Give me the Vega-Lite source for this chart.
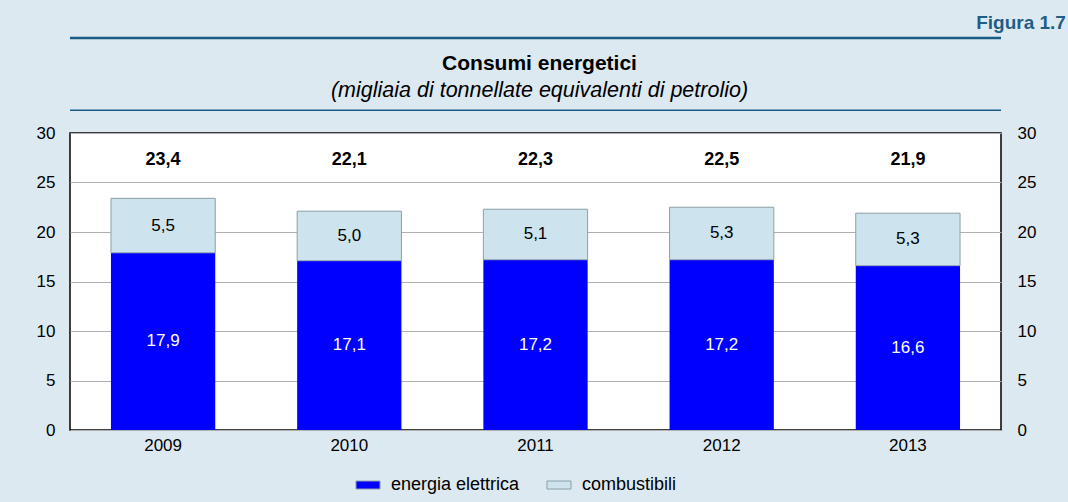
{
  "$schema": "https://vega.github.io/schema/vega-lite/v6.json",
  "width": 931,
  "height": 297,
  "autosize": {"type": "none"},
  "padding": {"left": 70, "top": 133, "right": 67, "bottom": 72},
  "background": "#dce9f1",
  "config": {
    "font": "Liberation Sans",
    "locale": {"number": {"decimal": ",", "thousands": ".", "grouping": [3], "currency": ["€", ""]}},
    "view": {"fill": "white", "stroke": "black", "strokeWidth": 1.5},
    "axis": {"labelFont": "Liberation Sans", "labelFontSize": 17, "labelColor": "#000", "ticks": false, "domain": false, "title": null}
  },
  "title": {
    "text": "Consumi energetici",
    "subtitle": "(migliaia di tonnellate equivalenti di petrolio)",
    "frame": "group",
    "anchor": "middle",
    "offset": -87,
    "dx": 4,
    "font": "Liberation Sans",
    "fontSize": 21,
    "fontWeight": "bold",
    "color": "black",
    "subtitleFont": "Liberation Sans",
    "subtitleFontSize": 21.5,
    "subtitleFontStyle": "italic",
    "subtitleColor": "black",
    "subtitlePadding": 6
  },
  "data": {
    "values": [
      {"year": "2009", "type": "energia elettrica", "value": 17.9},
      {"year": "2009", "type": "combustibili", "value": 5.5},
      {"year": "2010", "type": "energia elettrica", "value": 17.1},
      {"year": "2010", "type": "combustibili", "value": 5.0},
      {"year": "2011", "type": "energia elettrica", "value": 17.2},
      {"year": "2011", "type": "combustibili", "value": 5.1},
      {"year": "2012", "type": "energia elettrica", "value": 17.2},
      {"year": "2012", "type": "combustibili", "value": 5.3},
      {"year": "2013", "type": "energia elettrica", "value": 16.6},
      {"year": "2013", "type": "combustibili", "value": 5.3}
    ]
  },
  "layer": [
    {
      "mark": {"type": "bar", "strokeWidth": 1},
      "encoding": {
        "x": {
          "field": "year",
          "type": "nominal",
          "scale": {"paddingInner": 0.44, "paddingOuter": 0.22},
          "axis": {"labelAngle": 0, "labelPadding": 7, "grid": false}
        },
        "y": {
          "field": "value",
          "type": "quantitative",
          "stack": "zero",
          "scale": {"domain": [0, 30], "nice": false},
          "axis": {"orient": "left", "values": [0, 5, 10, 15, 20, 25, 30], "labelPadding": 15, "grid": true, "gridColor": "#b0b0b0", "gridWidth": 1}
        },
        "color": {
          "field": "type",
          "type": "nominal",
          "scale": {"domain": ["energia elettrica", "combustibili"], "range": ["#0000ff", "#cde3ee"]},
          "legend": {
            "orient": "none",
            "legendX": 289,
            "legendY": 343,
            "direction": "horizontal",
            "title": null,
            "padding": 0,
            "symbolType": "M-1.5,-0.5H1.5V0.5H-1.5Z",
            "symbolSize": 256,
            "symbolStrokeColor": "#8c9ea6",
            "symbolStrokeWidth": 1,
            "labelFont": "Liberation Sans",
            "labelFontSize": 18,
            "labelColor": "#000",
            "labelOffset": 14,
            "columnPadding": 25
          }
        },
        "order": {"field": "type", "sort": "descending"},
        "stroke": {"condition": {"test": "datum.type === 'combustibili'", "value": "#8c9ea6"}, "value": null}
      }
    },
    {
      "mark": {"type": "text", "fontSize": 17, "baseline": "middle"},
      "encoding": {
        "x": {"field": "year", "type": "nominal"},
        "y": {
          "field": "value",
          "type": "quantitative",
          "stack": "zero",
          "bandPosition": 0.5,
          "scale": {"domain": [0, 30], "nice": false},
          "axis": {"orient": "right", "values": [0, 5, 10, 15, 20, 25, 30], "labelPadding": 16, "grid": false}
        },
        "detail": {"field": "type", "type": "nominal"},
        "order": {"field": "type", "sort": "descending"},
        "text": {"field": "value", "type": "quantitative", "format": ".1f"},
        "color": {"condition": {"test": "datum.type === 'energia elettrica'", "value": "white"}, "value": "black"}
      }
    },
    {
      "mark": {"type": "text", "fontSize": 18, "fontWeight": "bold", "baseline": "middle", "color": "black"},
      "encoding": {
        "x": {"field": "year", "type": "nominal"},
        "y": {"datum": 27.3, "type": "quantitative", "scale": {"domain": [0, 30], "nice": false}, "axis": null},
        "text": {"aggregate": "sum", "field": "value", "type": "quantitative", "format": ".1f"}
      }
    },
    {
      "data": {"values": [{"label": "Figura 1.7"}]},
      "mark": {"type": "text", "fontSize": 19, "fontWeight": "bold", "baseline": "middle", "align": "right", "dx": 158, "color": "#1f5d86"},
      "encoding": {
        "x": {"datum": "2013", "type": "nominal"},
        "y": {"datum": 41.1, "type": "quantitative", "scale": {"domain": [0, 30], "nice": false}, "axis": null},
        "text": {"field": "label", "type": "nominal"}
      }
    },
    {
      "data": {"values": [{"line": "top"}]},
      "mark": {"type": "rule", "color": "#1a5c85", "strokeWidth": 2.5},
      "encoding": {
        "y": {"datum": 39.6, "type": "quantitative", "scale": {"domain": [0, 30], "nice": false}, "axis": null}
      }
    },
    {
      "data": {"values": [{"line": "mid"}]},
      "mark": {"type": "rule", "color": "#1a5c85", "strokeWidth": 1.5},
      "encoding": {
        "y": {"datum": 32.3, "type": "quantitative", "scale": {"domain": [0, 30], "nice": false}, "axis": null}
      }
    }
  ],
  "resolve": {"axis": {"y": "independent"}}
}
